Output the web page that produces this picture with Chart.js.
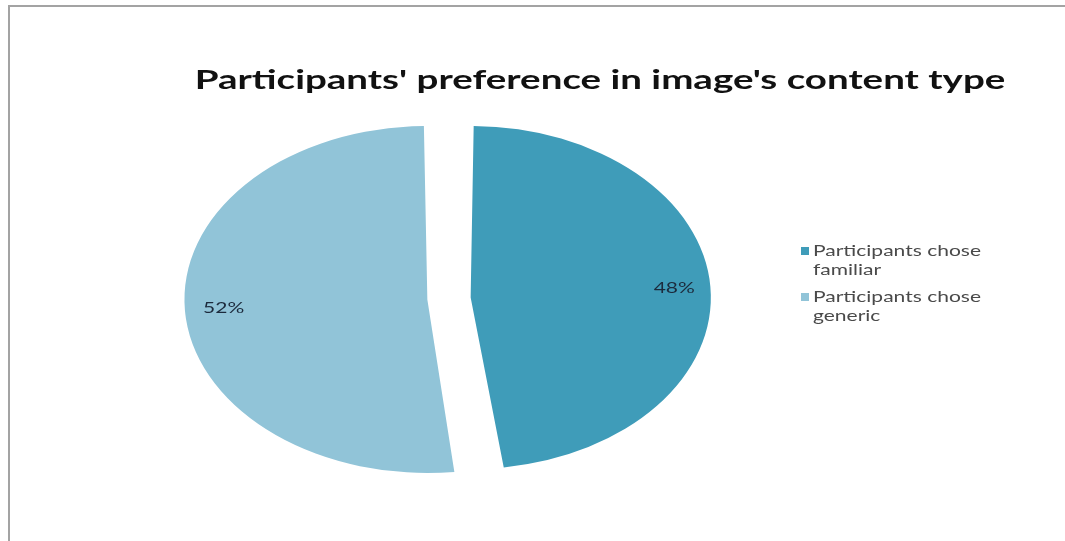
<!DOCTYPE html>
<html>
<head>
<meta charset="utf-8">
<script src="https://cdn.jsdelivr.net/npm/chart.js@4.4.1/dist/chart.umd.min.js"></script>
<style>
  html, body { margin: 0; padding: 0; background: #fff; }
  #wrap { position: relative; width: 1065px; height: 541px; overflow: hidden; }
  #frame { position: absolute; left: 8px; top: 5px; right: -4px; bottom: -4px;
           border-top: 2px solid #a3a3a3; border-left: 2px solid #a3a3a3; pointer-events: none; }
  canvas { position: absolute; left: 0; top: 0; }
</style>
</head>
<body>
<div id="wrap">
  <canvas id="pie" width="1065" height="541"></canvas>
  <div id="frame"></div>
</div>
<script>
const titleText = "Participants' preference in image's content type";
const categories = ['Participants chose familiar', 'Participants chose generic'];
const legendLines = [['Participants chose', 'familiar'], ['Participants chose', 'generic']];
const shares = [48, 52];
const sliceColors = ['#3f9cb9', '#91c4d8'];

// the original picture is stretched sideways: pie is an ellipse, text is wide
const stretchX = 1.40;

function wideText(ctx, text, x, y) {
    ctx.save();
    ctx.translate(x, y);
    ctx.scale(stretchX, 1);
    ctx.fillText(text, 0, 0);
    ctx.restore();
}

const ellipsePlugin = {
    id: 'ellipse',
    beforeDatasetsDraw(chart) {
        const arc = chart.getDatasetMeta(0).data[0];
        const ctx = chart.ctx;
        ctx.save();
        ctx.translate(arc.x, arc.y);
        ctx.scale(stretchX, 1);
        ctx.translate(-arc.x, -arc.y);
    },
    afterDatasetsDraw(chart) {
        chart.ctx.restore();
    }
};

const sliceLabels = {
    id: 'sliceLabels',
    afterDatasetsDraw(chart) {
        const ctx = chart.ctx;
        const meta = chart.getDatasetMeta(0);
        ctx.save();
        ctx.font = '15px Lato';
        ctx.fillStyle = '#1c2a3c';
        ctx.textAlign = 'center';
        ctx.textBaseline = 'middle';
        meta.data.forEach((arc, i) => {
            const p = arc.getProps(['x', 'y', 'startAngle', 'endAngle', 'outerRadius']);
            const mid = (p.startAngle + p.endAngle) / 2;
            // chart.js moves an exploded arc by offset / 4
            const shift = arc.options.offset / 4;
            const r = shift + (p.outerRadius + shift) * 0.84;
            wideText(ctx, shares[i] + '%', p.x + Math.cos(mid) * r * stretchX, p.y + Math.sin(mid) * r);
        });
        ctx.restore();
    }
};

const titleAndLegend = {
    id: 'titleAndLegend',
    afterDraw(chart) {
        const ctx = chart.ctx;
        ctx.save();
        ctx.fillStyle = '#111';
        ctx.font = 'bold 27.5px Lato';
        ctx.textAlign = 'center';
        ctx.textBaseline = 'middle';
        wideText(ctx, titleText, 600, 80);

        ctx.font = '15px Lato';
        ctx.textAlign = 'left';
        legendLines.forEach((lines, i) => {
            const top = 251 + i * 46;
            ctx.fillStyle = sliceColors[i];
            ctx.fillRect(801, top - 4, 8, 8);
            ctx.fillStyle = '#4a4a4a';
            lines.forEach((line, j) => wideText(ctx, line, 813, top + j * 19));
        });
        ctx.restore();
    }
};

new Chart(document.getElementById('pie'), {
    type: 'pie',
    data: {
        labels: categories,
        datasets: [{
            data: shares,
            backgroundColor: sliceColors,
            borderWidth: 0,
            offset: 62,
            hoverOffset: 0
        }]
    },
    options: {
        responsive: false,
        animation: false,
        radius: 158,
        layout: { padding: { left: 5, right: 172, top: 56, bottom: 0 } },
        plugins: {
            legend: { display: false },
            title: { display: false },
            tooltip: { enabled: false }
        }
    },
    plugins: [ellipsePlugin, sliceLabels, titleAndLegend]
});
</script>
</body>
</html>
